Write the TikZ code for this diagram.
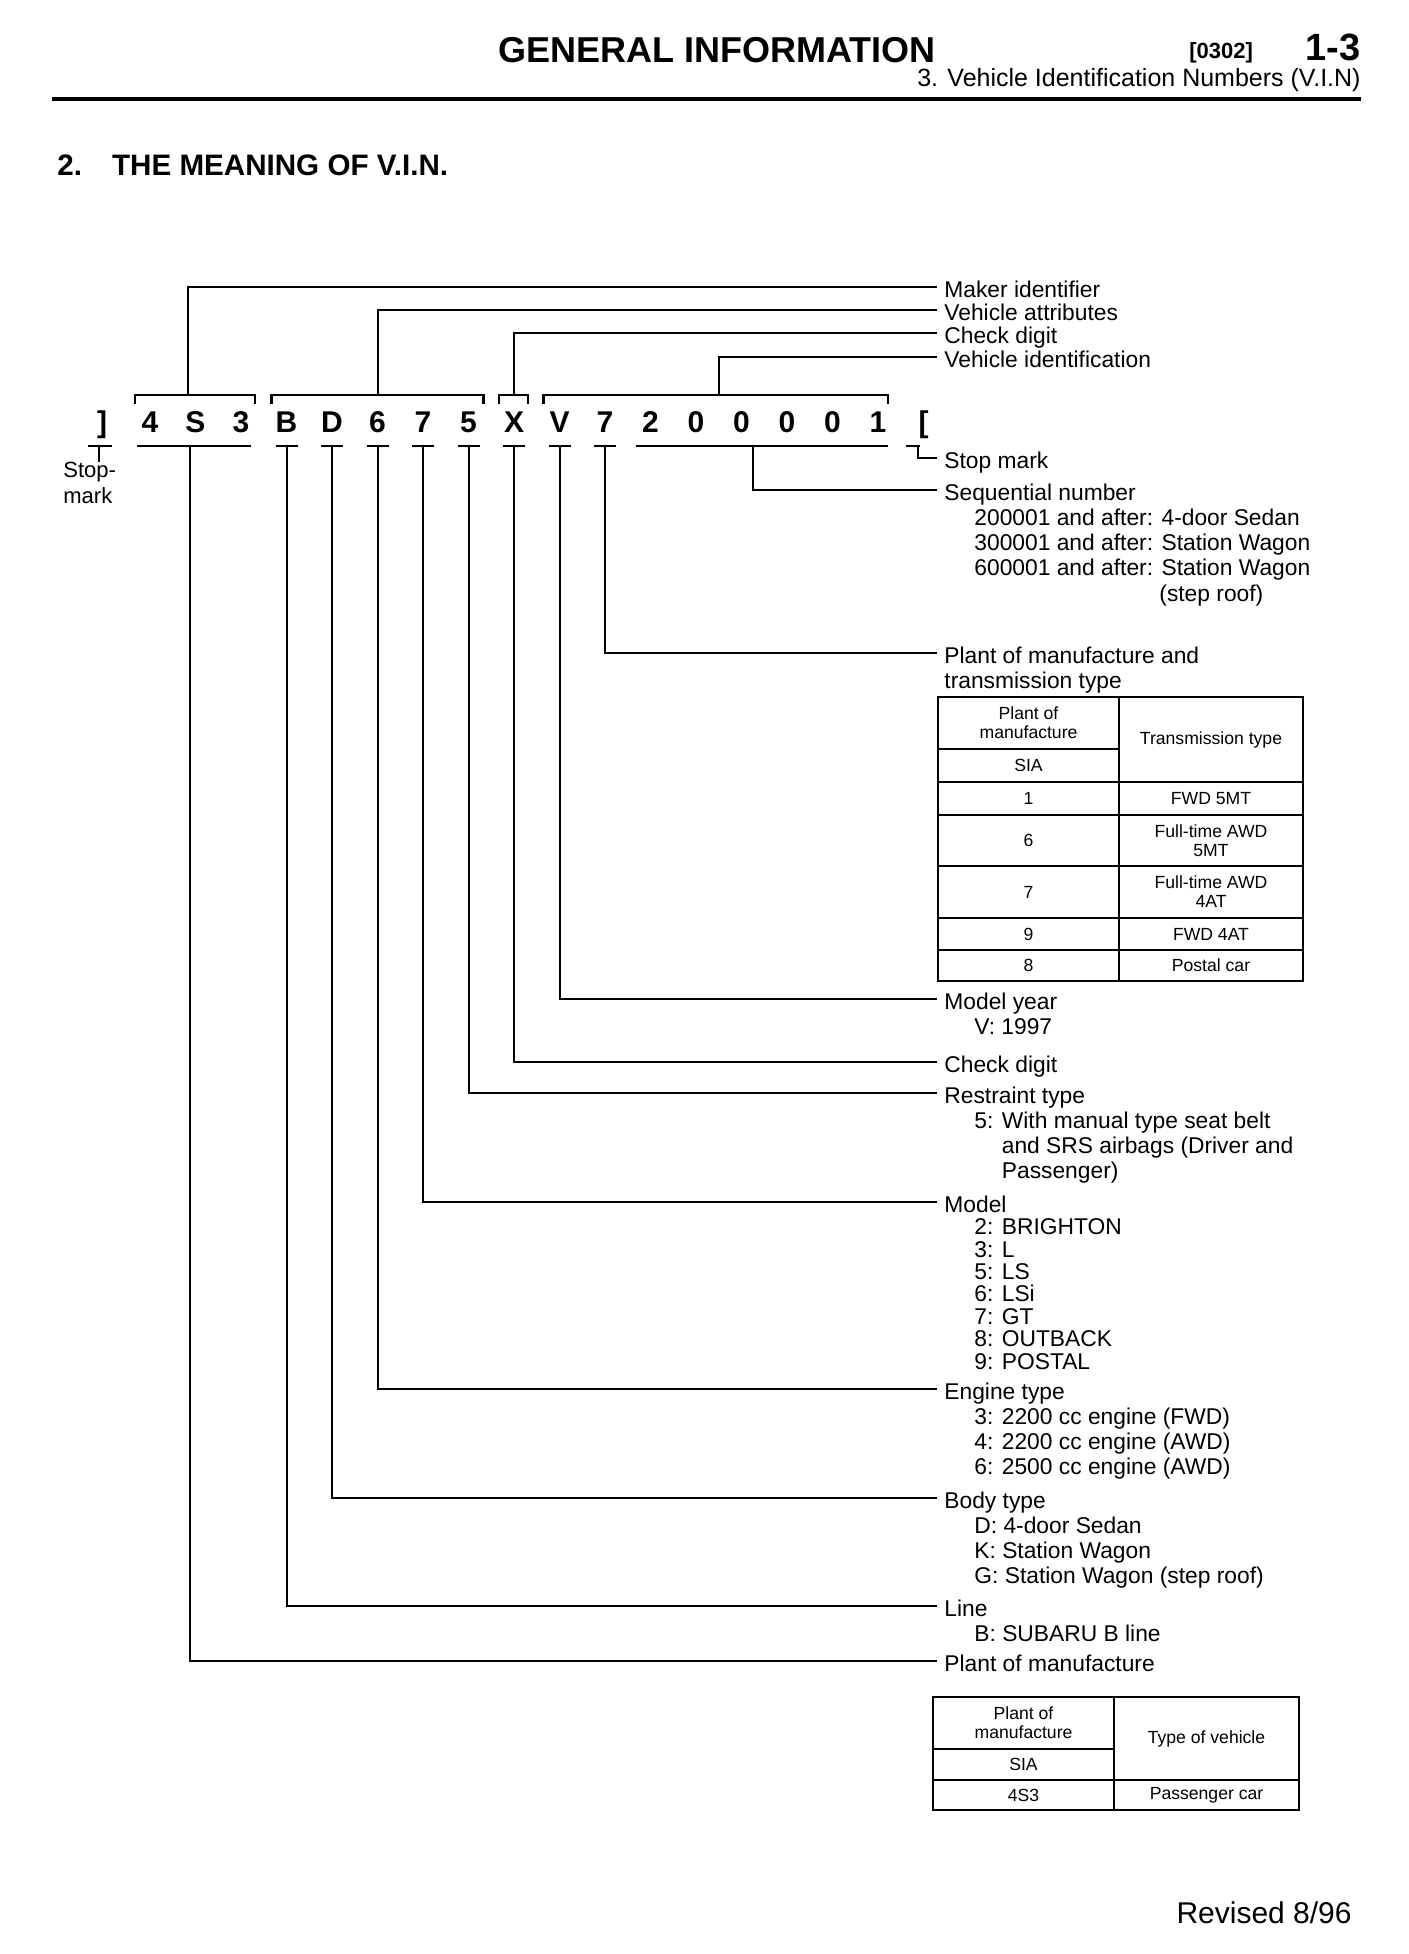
\documentclass[tikz,border=0pt]{standalone}
\usepackage{fontspec}
\setmainfont{Liberation Sans}
\usetikzlibrary{calc, positioning}

\newcommand{\listind}{\hspace*{15pt}}

\begin{document}
\begin{tikzpicture}[
    x=0.5pt, y=0.5pt,
    vin/.style={anchor=base, inner sep=0pt, font=\fontsize{15}{18}\selectfont\bfseries},
    lbl/.style={anchor=north west, inner sep=0pt, align=left, xshift=3.5pt, yshift=3.3pt, font=\fontsize{11.4}{12.6}\selectfont},
    cell/.style={inner sep=0pt, align=center, font=\fontsize{8.8}{9.6}\selectfont},
    lead/.style={line width=1pt},
    bar/.style={line width=1.3pt},
    grid/.style={line width=1.2pt}
]
\useasboundingbox (0,0) rectangle (1408,-1954);

% ----------------------------------------------------
% Page header
% ----------------------------------------------------
\node[anchor=base west, inner sep=0pt, font=\fontsize{18}{20}\selectfont\bfseries] (title) at (498,-62) {GENERAL INFORMATION};
\node[anchor=base west, inner sep=0pt, font=\fontsize{11}{13}\selectfont\bfseries] (code) at (1189,-58) {[0302]};
\node[anchor=base east, inner sep=0pt, font=\fontsize{19}{21}\selectfont\bfseries] (page) at (1361,-61) {1-3};
\node[anchor=base east, inner sep=0pt, font=\fontsize{12.5}{14}\selectfont] (sub) at (1361,-86) {3. Vehicle Identification Numbers (V.I.N)};
\draw[line width=2pt] (52,-99) -- (1361,-99);

\node[anchor=base west, inner sep=0pt, font=\fontsize{14.8}{16}\selectfont\bfseries] (sect) at (57,-175) {2.\hspace{15pt}THE MEANING OF V.I.N.};

% ----------------------------------------------------
% The V.I.N. itself
% ----------------------------------------------------
\foreach \ch [count=\i] in {4,S,3,B,D,6,7,5,X,V,7,2,0,0,0,0,1}
    \node[vin] (c\i) at ({150+(\i-1)*45.5},-432) {\ch};
\node[vin] (stopL) at (102,-432) {]};
\node[vin] (stopR) at (923.5,-432) {[};

\coordinate (tb) at (0,-395);
\coordinate (ub) at (0,-446);

% brackets above
\draw[bar] ($(c1 |- tb)+(-15,-9)$) -- ++(0,9) -- ($(c3 |- tb)+(14,0)$) -- ++(0,-9);
\draw[bar] ($(c4 |- tb)+(-15,-9)$) -- ++(0,9) -- ($(c8 |- tb)+(15,0)$) -- ++(0,-9);
\draw[bar] ($(c9 |- tb)+(-15,-9)$) -- ++(0,9) -- ($(c9 |- tb)+(14,0)$) -- ++(0,-9);
\draw[bar] ($(c10 |- tb)+(-16,-9)$) -- ++(0,9) -- ($(c17 |- tb)+(10,0)$) -- ++(0,-9);

% bars below
\draw[bar] ($(c1 |- ub)+(-13,0)$) -- ($(c3 |- ub)+(10,0)$);
\foreach \i in {4,...,11}
    \draw[bar] ($(c\i |- ub)+(-11,0)$) -- ++(22,0);
\draw[bar] ($(c12 |- ub)+(-15,0)$) -- ($(c17 |- ub)+(10,0)$);
\draw[bar] ($(stopL |- ub)+(-14,0)$) -- ++(24,0);
\draw[lead] ($(stopL |- ub)+(-3,0)$) -- ++(0,-16);
\draw[bar] ($(stopR |- ub)+(-18,0)$) -- ++(14,0);

\node[anchor=north west, inner sep=0pt, align=left, font=\fontsize{11}{13}\selectfont] (stopLtxt) at (63,-462) {Stop-\\mark};

% ----------------------------------------------------
% Upper callouts
% ----------------------------------------------------
\coordinate (makerE) at (937,-287);
\coordinate (attrE) at (937,-310);
\coordinate (chkE) at (937,-333);
\coordinate (identE) at (937,-357);
\coordinate (b4m) at ($(c10 |- tb)!0.5!(c17 |- tb)$);

\node[lbl] (maker) at (makerE) {Maker identifier};
\node[lbl] (attr) at (attrE) {Vehicle attributes};
\node[lbl] (chk) at (chkE) {Check digit};
\node[lbl] (ident) at (identE) {Vehicle identification};

\draw[lead] ($(c2 |- tb)+(-8,0)$) |- (makerE);
\draw[lead] (c6 |- tb) |- (attrE);
\draw[lead] (c9 |- tb) |- (chkE);
\draw[lead] (b4m) |- (identE);

% ----------------------------------------------------
% Lower callouts
% ----------------------------------------------------
\coordinate (stopRE) at (937,-458);
\coordinate (seqE) at (937,-490);
\coordinate (plantTE) at (937,-653);
\coordinate (yearE) at (937,-999);
\coordinate (chkBE) at (937,-1062);
\coordinate (restrE) at (937,-1093);
\coordinate (modelE) at (937,-1202);
\coordinate (engE) at (937,-1389);
\coordinate (bodyE) at (937,-1498);
\coordinate (lineE) at (937,-1606);
\coordinate (plantBE) at (937,-1661);
\coordinate (seqD) at ($(c12 |- ub)!0.45!(c17 |- ub)$);

\node[lbl] (stopRtxt) at (stopRE) {Stop mark};
\node[lbl] (seq) at (seqE) {Sequential number\\
    \listind 200001 and after: 4-door Sedan\\
    \listind 300001 and after: Station Wagon\\
    \listind 600001 and after: Station Wagon\\
    \hspace*{107.5pt}(step roof)};
\node[lbl] (plantT) at (plantTE) {Plant of manufacture and\\transmission type};
\node[lbl] (year) at (yearE) {Model year\\\listind V: 1997};
\node[lbl] (chkB) at (chkBE) {Check digit};
\node[lbl] (restr) at (restrE) {Restraint type\\
    \listind 5: With manual type seat belt\\
    \listind\phantom{5: }and SRS airbags (Driver and\\
    \listind\phantom{5: }Passenger)};
\node[lbl, font=\fontsize{11.4}{11.2}\selectfont] (model) at (modelE) {Model\\
    \listind 2: BRIGHTON\\ \listind 3: L\\ \listind 5: LS\\ \listind 6: LSi\\
    \listind 7: GT\\ \listind 8: OUTBACK\\ \listind 9: POSTAL};
\node[lbl] (eng) at (engE) {Engine type\\
    \listind 3: 2200 cc engine (FWD)\\
    \listind 4: 2200 cc engine (AWD)\\
    \listind 6: 2500 cc engine (AWD)};
\node[lbl] (body) at (bodyE) {Body type\\
    \listind D: 4-door Sedan\\
    \listind K: Station Wagon\\
    \listind G: Station Wagon (step roof)};
\node[lbl] (line) at (lineE) {Line\\\listind B: SUBARU B line};
\node[lbl] (plantB) at (plantBE) {Plant of manufacture};

\draw[lead] ($(stopR |- ub)+(-6,0)$) |- (stopRE);
\draw[lead] (seqD) |- (seqE);
\draw[lead] (c11 |- ub) |- (plantTE);
\draw[lead] (c10 |- ub) |- (yearE);
\draw[lead] (c9 |- ub) |- (chkBE);
\draw[lead] (c8 |- ub) |- (restrE);
\draw[lead] (c7 |- ub) |- (modelE);
\draw[lead] (c6 |- ub) |- (engE);
\draw[lead] (c5 |- ub) |- (bodyE);
\draw[lead] (c4 |- ub) |- (lineE);
\draw[lead] ($(c2 |- ub)+(-6,0)$) |- (plantBE);

% ----------------------------------------------------
% Table: plant of manufacture and transmission type
% ----------------------------------------------------
\draw[grid] (938,-697) rectangle (1303,-981);
\draw[grid] (1119,-697) -- (1119,-981);
\draw[grid] (938,-749) -- (1119,-749);
\foreach \yy in {782,815,866,918,950}
    \draw[grid] (938,-\yy) -- (1303,-\yy);

\node[cell] (t1pm) at (1028.5,-723) {Plant of\\manufacture};
\node[cell] (t1sia) at (1028.5,-765.5) {SIA};
\node[cell] (t1tt) at (1211,-739.5) {Transmission type};
\foreach \ya/\pa/\tx [count=\r] in {798.5/1/FWD 5MT, 840.5/6/{Full-time AWD\\5MT}, 892/7/{Full-time AWD\\4AT}, 934/9/FWD 4AT, 965.5/8/Postal car}{
    \node[cell] (t1p\r) at (1028.5,-\ya) {\pa};
    \node[cell] (t1t\r) at (1211,-\ya) {\tx};
}

% ----------------------------------------------------
% Table: plant of manufacture and type of vehicle
% ----------------------------------------------------
\draw[grid] (933,-1697) rectangle (1299,-1810);
\draw[grid] (1114,-1697) -- (1114,-1810);
\draw[grid] (933,-1749) -- (1114,-1749);
\draw[grid] (933,-1780) -- (1299,-1780);

\node[cell] (t2pm) at (1023.5,-1723) {Plant of\\manufacture};
\node[cell] (t2sia) at (1023.5,-1764.5) {SIA};
\node[cell] (t2tv) at (1206.5,-1738.5) {Type of vehicle};
\node[cell] (t2p) at (1023.5,-1795) {4S3};
\node[cell] (t2t) at (1206.5,-1795) {Passenger car};

% ----------------------------------------------------
% Footer
% ----------------------------------------------------
\node[anchor=base east, inner sep=0pt, font=\fontsize{15}{17}\selectfont] (rev) at (1352,-1923) {Revised 8/96};

\end{tikzpicture}
\end{document}
